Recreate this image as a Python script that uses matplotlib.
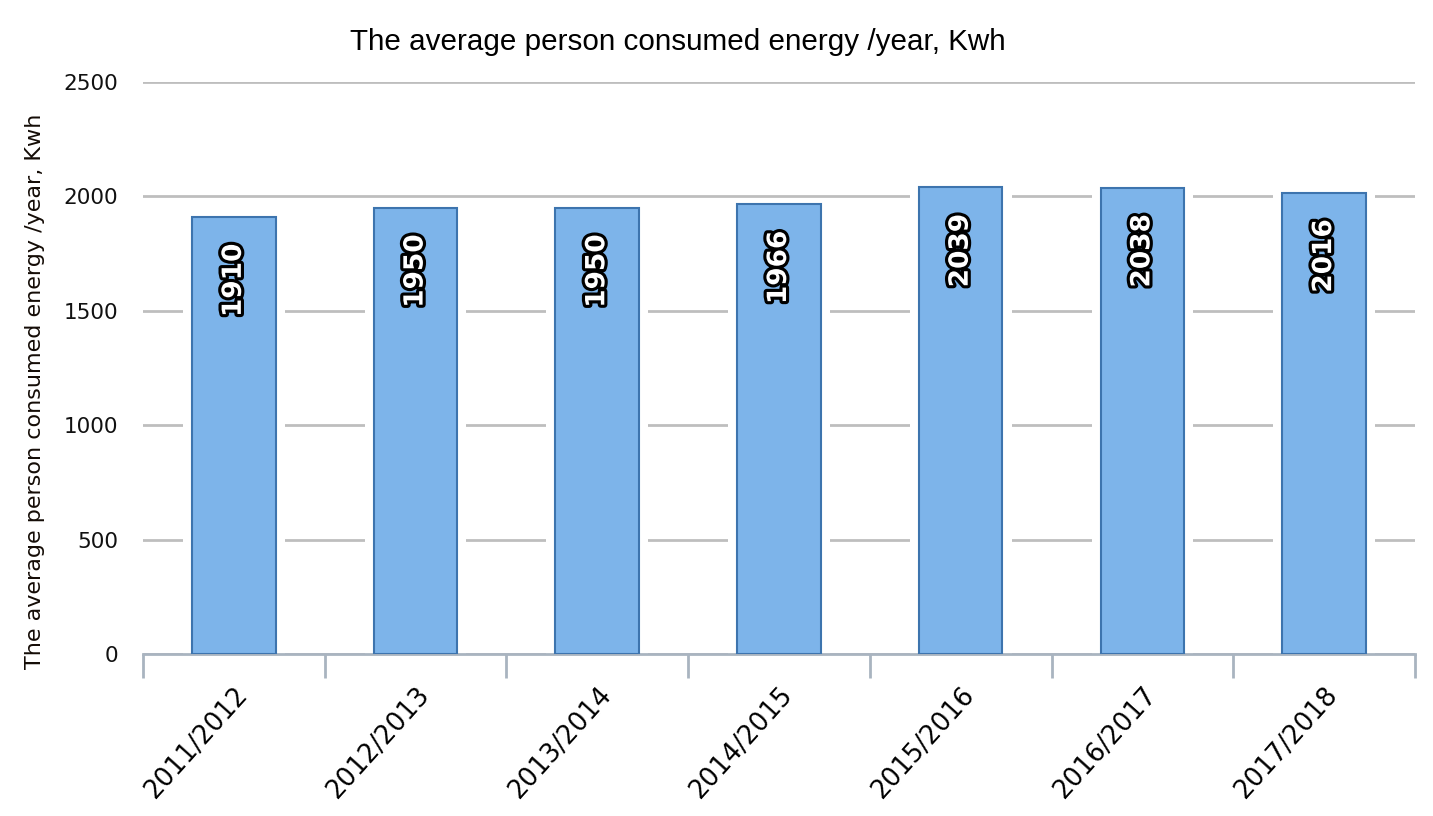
import matplotlib.pyplot as plt
import matplotlib.patheffects as pe
import numpy as np

# data
years = ['2011/2012', '2012/2013', '2013/2014', '2014/2015',
         '2015/2016', '2016/2017', '2017/2018']
energy = [1910, 1950, 1950, 1966, 2039, 2038, 2016]
y_ticks = [0, 500, 1000, 1500, 2000, 2500]

title = 'The average person consumed energy /year, Kwh'

fig = plt.figure(figsize=(14.33, 8.16), dpi=100)
ax = fig.add_axes([0.0998, 0.1985, 0.8876, 0.701])

x = np.arange(len(years))
bar_w = 0.46

# white halo behind bars so grid lines stop short of them
ax.bar(x, energy, width=bar_w + 0.1, color='white', zorder=2)
ax.bar(x, energy, width=bar_w, color='#7DB4EA', edgecolor='#3D74AE',
       linewidth=1.5, zorder=3)

for xi, v in zip(x, energy):
    ax.text(xi, v - 115, str(v), rotation=90, ha='center', va='top',
            fontsize=19, fontweight='bold', color='white', zorder=4,
            path_effects=[pe.withStroke(linewidth=4.5, foreground='black')])

ax.set_xlim(-0.5, len(years) - 0.5)
ax.set_ylim(0, 2500)
ax.set_yticks(y_ticks)
ax.set_yticklabels([str(t) for t in y_ticks], fontsize=15.5, color='#111111')
ax.yaxis.grid(True, color='#BEBEBE', linewidth=2)
ax.set_axisbelow(True)

# category boundary ticks
ax.set_xticks(np.arange(len(years) + 1) - 0.5, minor=True)
ax.set_xticks(x)
ax.set_xticklabels(years, rotation=48, ha='right', rotation_mode='anchor',
                   fontsize=18.5)
ax.tick_params(axis='x', which='major', length=0, pad=20)
ax.tick_params(axis='x', which='minor', length=17, width=2, color='#A9B4C0')
ax.tick_params(axis='y', length=0, pad=18)

for s in ['top', 'right', 'left']:
    ax.spines[s].set_visible(False)
ax.spines['bottom'].set_color('#A9B4C0')
ax.spines['bottom'].set_linewidth(2)

ax.set_ylabel(title, fontsize=16, color='#140c06')
ax.yaxis.set_label_coords(-0.077, 0.46)

t = fig.text(0.473, 0.948, title, ha='center', va='center', fontsize=22,
             family='Liberation Sans')
# squeeze the title to the width it has in the reference (~655 px)
fig.canvas.draw()
w = t.get_window_extent().width
t.set_fontsize(22 * 655 / w)

plt.savefig('out.png', dpi=100)
